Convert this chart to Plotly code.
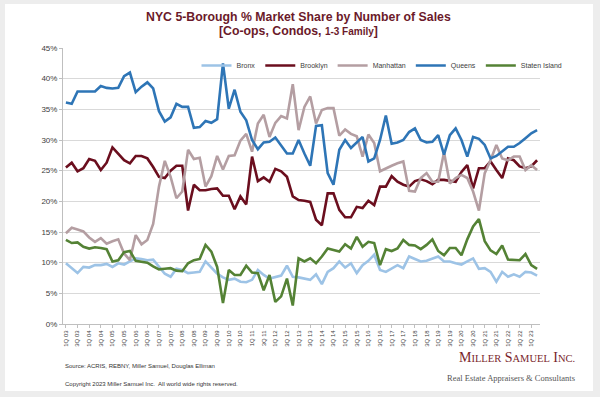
import plotly.graph_objects as go

quarters = [f"{q}Q {y:02d}" for y in range(3, 24) for q in range(1, 5)][:82]
tick_labels = quarters[::2]

bronx = [9.9, 9.1, 8.3, 9.3, 9.2, 9.6, 9.6, 9.8, 9.3, 9.9, 9.7, 10.2, 10.7, 10.6, 10.4, 10.5, 9.4, 8.2, 7.7, 9.0, 8.8,
         8.3, 8.4, 8.5, 10.2, 9.2, 8.2, 7.6, 7.2, 7.4, 6.9, 6.8, 7.2, 8.8, 8.0, 7.4, 7.7, 7.9, 9.5, 7.7, 7.6, 7.4,
         7.2, 8.1, 6.5, 8.5, 9.1, 10.2, 9.2, 9.9, 8.3, 9.6, 10.3, 11.3, 8.8, 8.5, 9.1, 9.6, 9.1, 11.0, 10.6, 10.2, 10.3,
         10.7, 11.0, 10.2, 10.2, 9.9, 9.7, 10.2, 10.7, 9.0, 9.1, 8.5, 6.9, 8.5, 7.7, 8.1, 7.7, 8.5, 8.4, 7.9]
brooklyn = [25.5, 26.3, 24.9, 25.4, 26.9, 26.6, 25.1, 26.3, 28.8, 27.7, 26.7, 26.2, 27.4, 27.4, 27.0, 25.6, 24.0, 23.8, 25.0, 25.8, 25.8,
            18.5, 22.7, 21.8, 21.8, 22.0, 22.1, 20.9, 20.9, 18.7, 20.8, 19.5, 27.3, 23.3, 23.9, 23.2, 25.3, 24.9, 24.0, 20.8, 20.2, 20.1,
            19.9, 17.0, 16.1, 21.3, 21.3, 18.6, 17.4, 17.4, 19.1, 18.9, 20.1, 19.4, 22.4, 22.4, 24.1, 23.2, 22.7, 22.4, 23.3, 23.6, 23.3,
            22.8, 23.5, 23.5, 23.3, 23.2, 24.8, 25.9, 22.1, 25.4, 25.4, 26.5, 25.1, 23.8, 27.0, 26.7, 25.7, 25.4, 25.7, 26.7]
manhattan = [14.8, 15.7, 15.4, 15.1, 14.1, 13.4, 14.0, 13.1, 13.5, 13.8, 11.5, 10.4, 14.5, 13.0, 13.7, 16.3, 22.4, 26.6, 24.0, 20.5, 21.6,
             28.4, 26.9, 27.1, 22.4, 24.1, 27.4, 25.2, 27.4, 27.5, 29.9, 31.0, 28.1, 32.7, 34.1, 30.5, 32.8, 33.9, 33.5, 39.1, 31.6, 35.4,
             37.1, 32.7, 34.9, 35.2, 35.2, 30.7, 31.7, 31.0, 30.6, 27.3, 30.9, 29.5, 24.9, 25.4, 25.8, 26.2, 26.5, 21.7, 21.6, 23.8, 24.6,
             23.2, 23.2, 28.0, 22.9, 23.8, 24.3, 23.8, 21.6, 18.5, 24.6, 26.7, 29.2, 27.0, 26.7, 27.3, 27.3, 25.1, 25.9, 25.1]
queens = [36.1, 35.9, 37.9, 37.9, 37.8, 37.9, 38.8, 38.5, 38.4, 38.5, 40.4, 41.0, 37.8, 38.7, 39.4, 38.4, 34.7, 33.0, 33.7, 35.9,
          35.4, 35.4, 32.0, 32.1, 33.1, 32.8, 33.4, 42.5, 35.1, 38.2, 34.6, 33.2, 30.0, 28.5, 29.6, 29.7, 30.4, 29.0, 27.8, 27.8,
          30.0, 27.8, 25.8, 32.3, 32.4, 24.6, 22.7, 28.4, 30.0, 28.7, 29.6, 30.5, 26.5, 27.0, 30.0, 34.0, 29.4, 29.6, 30.0, 31.3,
          31.9, 30.0, 29.6, 29.7, 30.8, 27.6, 30.8, 31.9, 30.0, 27.3, 30.5, 30.2, 29.2, 27.0, 27.4, 28.1, 28.9, 28.9, 29.5, 30.3,
          31.1, 31.6]
staten_island = [13.7, 13.2, 13.3, 12.6, 12.3, 12.5, 12.4, 12.2, 10.2, 10.4, 11.7, 11.9, 10.3, 10.2, 10.0, 9.4, 8.9, 9.0, 9.1, 8.7, 8.6,
                 9.9, 10.4, 10.6, 12.9, 11.8, 9.3, 3.4, 8.8, 8.0, 8.0, 9.5, 8.4, 8.3, 5.5, 8.0, 3.6, 4.5, 7.4, 3.0, 10.7, 10.2,
                 10.7, 9.9, 11.0, 12.3, 12.1, 11.8, 13.0, 12.3, 14.2, 12.6, 13.4, 13.2, 9.6, 12.2, 11.9, 12.3, 13.7, 12.9, 12.8, 12.2, 12.9,
                 13.8, 11.9, 11.2, 12.4, 12.4, 11.2, 13.8, 15.9, 17.1, 13.5, 12.0, 11.4, 12.8, 10.5, 10.4, 10.4, 11.4, 9.6, 9.0]

series = [
    ("Bronx", bronx, "#9DC3E6"),
    ("Brooklyn", brooklyn, "#6B0E1E"),
    ("Manhattan", manhattan, "#B49EA2"),
    ("Queens", queens, "#2E75B6"),
    ("Staten Island", staten_island, "#548235"),
]

fig = go.Figure()
for name, vals, color in series:
    fig.add_trace(go.Scatter(
        x=quarters, y=[v / 100 for v in vals], name=name, mode="lines",
        line=dict(color=color, width=2.6),
    ))

W, H = 600, 397
L, R, T, B = 63, 540, 48, 324

def px_x(X):
    return (X - L) / (R - L)

def px_y(Y):
    return (B - Y) / (B - T)

fig.update_layout(
    width=W, height=H,
    margin=dict(l=L, r=W - R, t=T, b=H - B, pad=0, autoexpand=False),
    paper_bgcolor="#EDEDED",
    plot_bgcolor="white",
    font=dict(family="Liberation Sans, Arial, sans-serif", color="#404040", size=8),
    showlegend=True,
    legend=dict(orientation="h", x=px_x(382), xanchor="center", y=px_y(51), yanchor="top",
                font=dict(size=7, color="#404040"), bgcolor="rgba(0,0,0,0)",
                itemwidth=30, tracegroupgap=0),
    xaxis=dict(
        type="category", categoryorder="array", categoryarray=quarters,
        tickmode="array", tickvals=tick_labels, ticktext=tick_labels,
        tickangle=-90, tickfont=dict(size=6, color="#404040"),
        showgrid=False, showline=True, linecolor="#BFBFBF", linewidth=1,
        ticks="outside", ticklen=3, tickcolor="#BFBFBF",
        range=[-0.5, 81.5], fixedrange=True,
    ),
    yaxis=dict(
        range=[0, 0.45], tickmode="array", tickvals=[i * 0.05 for i in range(10)],
        tickformat=".0%", tickfont=dict(size=8, color="#404040"),
        showgrid=True, gridcolor="#D9D9D9", gridwidth=1,
        showline=True, linecolor="#BFBFBF", linewidth=1,
        ticks="outside", ticklen=3, tickcolor="#BFBFBF",
        zeroline=False, fixedrange=True,
    ),
)

fig.add_shape(type="rect", xref="paper", yref="paper",
              x0=px_x(5), x1=px_x(593), y0=px_y(391), y1=px_y(4),
              fillcolor="white", line=dict(width=0), layer="below")

title_font = dict(family="Liberation Sans, Arial, sans-serif", size=12.3, color="#6B1A2A")
fig.add_annotation(xref="paper", yref="paper", x=px_x(298), y=px_y(17), xanchor="center", yanchor="middle",
                   text="<b>NYC 5-Borough % Market Share by Number of Sales</b>", showarrow=False, font=title_font)
fig.add_annotation(xref="paper", yref="paper", x=px_x(298), y=px_y(31), xanchor="center", yanchor="middle",
                   text="<b>[Co-ops, Condos, <span style='font-size:10px'>1-3 Family</span>]</b>", showarrow=False, font=title_font)

fig.add_annotation(xref="paper", yref="paper", x=px_x(63), y=px_y(366), xanchor="left", yanchor="middle",
                   text="Source: ACRIS, REBNY, Miller Samuel, Douglas Elliman", showarrow=False,
                   font=dict(size=6, color="#333333"))
fig.add_annotation(xref="paper", yref="paper", x=px_x(63), y=px_y(384), xanchor="left", yanchor="middle",
                   text="Copyright 2023 Miller Samuel Inc.  All world wide rights reserved.", showarrow=False,
                   font=dict(size=6, color="#333333"))
fig.add_annotation(xref="paper", yref="paper", x=px_x(577), y=px_y(357), xanchor="right", yanchor="middle",
                   text="M<span style='font-size:10.5px'>ILLER</span> S<span style='font-size:10.5px'>AMUEL</span> I<span style='font-size:10.5px'>NC.</span>",
                   showarrow=False, font=dict(family="Liberation Serif, Times New Roman, serif", size=14, color="#7A1F2B"))
fig.add_annotation(xref="paper", yref="paper", x=px_x(577), y=px_y(378), xanchor="right", yanchor="middle",
                   text="Real Estate Appraisers &amp; Consultants", showarrow=False,
                   font=dict(family="Liberation Serif, Times New Roman, serif", size=8.5, color="#555555"))

fig.write_html("out.html", config={"displayModeBar": False},
               post_script="document.body.style.margin='0';document.body.style.overflow='hidden';")
